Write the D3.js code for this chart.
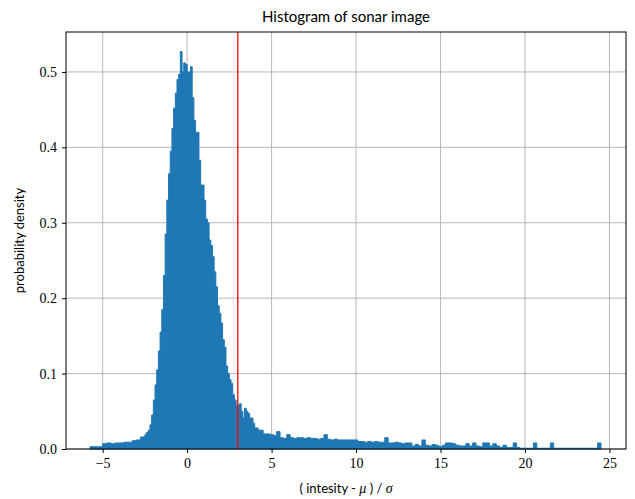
<!DOCTYPE html>
<html>
<head>
<meta charset="utf-8">
<script src="https://cdn.jsdelivr.net/npm/d3@7"></script>
<style>
  body { margin: 0; background: #fff; }
  .tick text { font-family: "Liberation Serif", serif; font-size: 14px; fill: #000; }
  .lbl { font-family: "Lato", "DejaVu Sans", sans-serif; fill: #000; }
</style>
</head>
<body>
<svg width="635" height="499"></svg>
<script>
// histogram densities, three stretches with their own bin width
var leftStart = -5.75, leftWidth = 0.25;
var leftDensity = [0.003, 0.003, 0.003, 0.007, 0.008, 0.007, 0.008, 0.008, 0.009, 0.009, 0.011, 0.012, 0.016];

var coreStart = -2.5, coreWidth = 0.1;
var coreDensity = [
  0.019, 0.022, 0.025, 0.032, 0.045, 0.065, 0.085, 0.105, 0.13, 0.155,
  0.185, 0.23, 0.285, 0.33, 0.365, 0.395, 0.425, 0.452, 0.472, 0.49,
  0.497, 0.527, 0.50, 0.512, 0.51, 0.50, 0.50, 0.507, 0.466, 0.436,
  0.42, 0.42, 0.383, 0.35, 0.35, 0.33, 0.305, 0.30, 0.277, 0.27,
  0.255, 0.235, 0.215, 0.19, 0.18, 0.167, 0.145, 0.135, 0.11, 0.10,
  0.092, 0.087, 0.072, 0.065, 0.058, 0.058, 0.06, 0.05, 0.041, 0.054,
  0.05, 0.047, 0.041, 0.041, 0.034, 0.028, 0.028, 0.025, 0.025, 0.025
];

var tailStart = 4.5, tailWidth = 0.2;
var tailDensity = [
  0.02, 0.02, 0.019, 0.018, 0.023, 0.015, 0.014, 0.019, 0.015, 0.014,
  0.015, 0.015, 0.014, 0.015, 0.014, 0.014, 0.013, 0.014, 0.019, 0.013,
  0.012, 0.013, 0.012, 0.012, 0.012, 0.012, 0.012, 0.012, 0.01, 0.01,
  0.009, 0.01, 0.009, 0.01, 0.009, 0.009, 0.015, 0.008, 0.008, 0.009,
  0.008, 0.007, 0.008, 0.008, 0.004, 0.006, 0.004, 0.012, 0.005, 0.004,
  0.006, 0.005, 0.003, 0.005, 0.008, 0.008, 0.007, 0.005, 0.004, 0.004,
  0.007, 0.004, 0.008, 0.004, 0.003, 0.008, 0.008, 0.004, 0.007, 0.004,
  0.002, 0.005, 0.002, 0.002, 0.008, 0.002, 0.001, 0.001, 0.001, 0.001,
  0.008, 0.001, 0.001, 0.001, 0.001, 0.008, 0.001, 0.001, 0.001, 0.001,
  0.001, 0.001, 0.001, 0.001, 0.001, 0.001, 0.001, 0.001, 0.001, 0.008
];

var xTicks = [-5, 0, 5, 10, 15, 20, 25];
var yTicks = [0, 0.1, 0.2, 0.3, 0.4, 0.5];
var threshold = 3;

var margin = {left: 66, right: 9, top: 32, bottom: 50};
var width = 635, height = 499;

var svg = d3.select("svg");

var x = d3.scaleLinear().domain([-7.17, 25.98]).range([margin.left, width - margin.right]);
var y = d3.scaleLinear().domain([0, 0.553]).range([height - margin.bottom, margin.top]);

// flatten the three stretches into one list of bins
var bins = [];
function addBins(start, w, vals) {
  vals.forEach(function(d, i) {
    bins.push({x0: start + i * w, x1: start + (i + 1) * w, d: d});
  });
}
addBins(leftStart, leftWidth, leftDensity);
addBins(coreStart, coreWidth, coreDensity);
addBins(tailStart, tailWidth, tailDensity);

var pts = bins.map(function(b) { return [b.x0, b.d]; });
var last = bins[bins.length - 1];
pts.push([last.x1, 0]);

// grid
var g = svg.append("g");
g.selectAll(".gx").data(xTicks).enter().append("line")
  .attr("x1", function(d){ return x(d); }).attr("x2", function(d){ return x(d); })
  .attr("y1", y.range()[0]).attr("y2", y.range()[1])
  .attr("stroke", "#b0b0b0").attr("stroke-width", 0.9);
g.selectAll(".gy").data(yTicks).enter().append("line")
  .attr("x1", x.range()[0]).attr("x2", x.range()[1])
  .attr("y1", function(d){ return y(d); }).attr("y2", function(d){ return y(d); })
  .attr("stroke", "#b0b0b0").attr("stroke-width", 0.9);

// histogram (step style, filled)
var area = d3.area()
  .x(function(p){ return x(p[0]); })
  .y0(y(0))
  .y1(function(p){ return y(p[1]); })
  .curve(d3.curveStepAfter);

svg.append("path")
  .datum(pts)
  .attr("d", area)
  .attr("fill", "#1f77b4")
  .attr("stroke", "#1f77b4")
  .attr("stroke-width", 1);

// threshold line
svg.append("line")
  .attr("x1", x(threshold)).attr("x2", x(threshold))
  .attr("y1", y.range()[0]).attr("y2", y.range()[1])
  .attr("stroke", "red").attr("stroke-width", 1.3);

// frame
svg.append("rect")
  .attr("x", margin.left).attr("y", margin.top)
  .attr("width", width - margin.left - margin.right)
  .attr("height", height - margin.top - margin.bottom)
  .attr("fill", "none").attr("stroke", "#000").attr("stroke-width", 1);

// axes
var xAxis = d3.axisBottom(x).tickValues(xTicks).tickSize(4).tickPadding(5)
  .tickFormat(function(d){ return d < 0 ? "\u2212" + Math.abs(d) : d; });
svg.append("g").attr("transform", "translate(0," + y.range()[0] + ")").call(xAxis)
  .call(function(s){ s.select(".domain").remove(); });

var yAxis = d3.axisLeft(y).tickValues(yTicks).tickSize(4).tickPadding(5)
  .tickFormat(d3.format(".1f"));
svg.append("g").attr("transform", "translate(" + margin.left + ",0)").call(yAxis)
  .call(function(s){ s.select(".domain").remove(); });

// labels
svg.append("text").attr("class", "lbl")
  .attr("x", (x.range()[0] + x.range()[1]) / 2).attr("y", 22)
  .attr("text-anchor", "middle").attr("font-size", 15)
  .text("Histogram of sonar image");

svg.append("text").attr("class", "lbl")
  .attr("transform", "translate(24," + ((y.range()[0] + y.range()[1]) / 2) + ") rotate(-90)")
  .attr("text-anchor", "middle").attr("font-size", 13)
  .text("probability density");

var xl = svg.append("text").attr("class", "lbl")
  .attr("x", (x.range()[0] + x.range()[1]) / 2).attr("y", 493)
  .attr("text-anchor", "middle").attr("font-size", 13);
xl.append("tspan").text("( intesity - ");
xl.append("tspan").attr("font-family", "Liberation Serif, serif").attr("font-style", "italic").attr("font-size", 14).text("\u03bc");
xl.append("tspan").text(" ) / ");
xl.append("tspan").attr("font-family", "Liberation Serif, serif").attr("font-style", "italic").attr("font-size", 14).text("\u03c3");
</script>
</body>
</html>
